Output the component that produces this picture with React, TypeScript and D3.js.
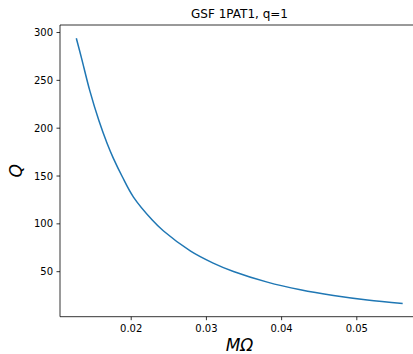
import React from "react";
import * as d3 from "d3";

const momega: number[] = [0.0127, 0.0134, 0.0145, 0.0157, 0.0168, 0.0176, 0.0188, 0.0203, 0.0228, 0.0243, 0.0279, 0.0309, 0.0336, 0.0381, 0.0425, 0.0469, 0.0514, 0.0561];
const qValues: number[] = [294, 273, 239, 208, 184, 169, 149.5, 128, 104, 92.5, 71.5, 59, 50.2, 39.1, 31.1, 25.1, 20.4, 16.8];
const xTicks: number[] = [0.02, 0.03, 0.04, 0.05];
const yTicks: number[] = [50, 100, 150, 200, 250, 300];
const titleText = "GSF 1PAT1, q=1";

const W = 413;
const H = 354;
const left = 60;
const top = 25;
const right = 419;
const bottom = 316.7;
const FONT = "DejaVu Sans, sans-serif";

export default function App() {
  const [x0, x1] = d3.extent(momega) as [number, number];
  const [y0, y1] = d3.extent(qValues) as [number, number];
  const mx = (x1 - x0) * 0.05;
  const my = (y1 - y0) * 0.05;
  const x = d3.scaleLinear().domain([x0 - mx, x1 + mx]).range([left, right]);
  const y = d3.scaleLinear().domain([y0 - my, y1 + my]).range([bottom, top]);
  const data = momega.map((m, i) => [m, qValues[i]] as [number, number]);
  const line = d3
    .line<[number, number]>()
    .x((d) => x(d[0]))
    .y((d) => y(d[1]))
    .curve(d3.curveCatmullRom.alpha(0.5));
  const cx = (left + right) / 2;
  const cy = (top + bottom) / 2;
  return (
    <svg
      width={W}
      height={H}
      style={{ position: "absolute", left: 0, top: 0, background: "#fff" }}
      fontFamily={FONT}
    >
      <rect x={0} y={0} width={W} height={H} fill="#fff" />
      <path d={line(data) || ""} fill="none" stroke="#1f77b4" strokeWidth={1.5} />
      <line x1={left} x2={left} y1={top} y2={bottom} stroke="#000" strokeWidth={0.8} />
      <line x1={left} x2={right} y1={bottom} y2={bottom} stroke="#000" strokeWidth={0.8} />
      <line x1={left} x2={right} y1={top} y2={top} stroke="#000" strokeWidth={0.8} />
      <line x1={right} x2={right} y1={top} y2={bottom} stroke="#000" strokeWidth={0.8} />
      {yTicks.map((t) => (
        <g key={"y" + t}>
          <line x1={left - 3.5} x2={left} y1={y(t)} y2={y(t)} stroke="#000" strokeWidth={0.8} />
          <text x={left - 7} y={y(t)} dy="0.35em" textAnchor="end" fontSize={10} fill="#000">
            {t}
          </text>
        </g>
      ))}
      {xTicks.map((t) => (
        <g key={"x" + t}>
          <line x1={x(t)} x2={x(t)} y1={bottom} y2={bottom + 3.5} stroke="#000" strokeWidth={0.8} />
          <text x={x(t)} y={bottom + 15.5} textAnchor="middle" fontSize={10} fill="#000">
            {t.toFixed(2)}
          </text>
        </g>
      ))}
      <text x={cx} y={top - 7} textAnchor="middle" fontSize={12} fill="#000">
        {titleText}
      </text>
      <text x={cx} y={351} textAnchor="middle" fontSize={17} fontStyle="italic" fill="#000">
        MΩ
      </text>
      <text
        transform={`translate(22,${cy}) rotate(-90)`}
        textAnchor="middle"
        fontSize={17}
        fontStyle="italic"
        fill="#000"
      >
        Q
      </text>
    </svg>
  );
}
